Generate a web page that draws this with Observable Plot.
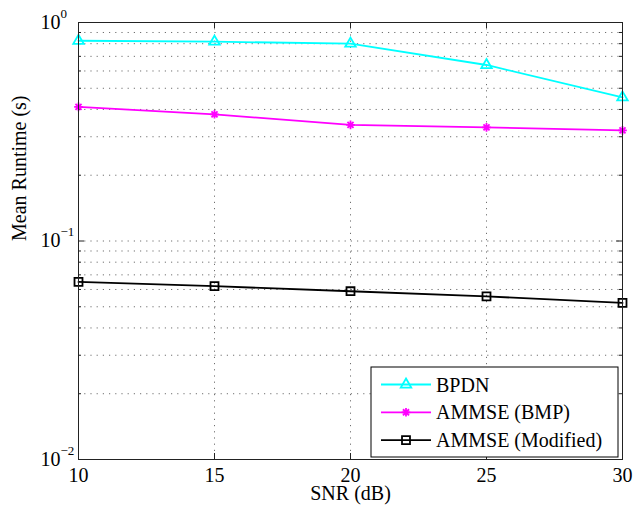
<!DOCTYPE html>
<html>
<head>
<meta charset="utf-8">
<script src="https://cdn.jsdelivr.net/npm/d3@7"></script>
<script src="https://cdn.jsdelivr.net/npm/@observablehq/plot@0.6"></script>
<style>
  html, body { margin: 0; padding: 0; background: #fff; }
  #chart { width: 635px; height: 510px; }
</style>
</head>
<body>
<div id="chart"></div>
<script>
// ---- data ----
const snr = [10, 15, 20, 25, 30];
const bpdn = [0.825, 0.817, 0.80, 0.639, 0.454];
const ammseBmp = [0.411, 0.38, 0.34, 0.331, 0.321];
const ammseModified = [0.065, 0.0621, 0.0589, 0.0558, 0.0521];
const seriesNames = ["BPDN", "AMMSE (BMP)", "AMMSE (Modified)"];
const seriesColors = ["#00ffff", "#ff00ff", "#000000"];
const xTicks = [10, 15, 20, 25, 30];
const yTicks = [0.01, 0.1, 1];
const yMinor = [0.02, 0.03, 0.04, 0.05, 0.06, 0.07, 0.08, 0.09,
                0.2, 0.3, 0.4, 0.5, 0.6, 0.7, 0.8, 0.9];
const xLabel = "SNR (dB)";
const yLabel = "Mean Runtime (s)";

const seriesValues = [bpdn, ammseBmp, ammseModified];
const rows = seriesNames.flatMap((name, i) =>
  snr.map((x, j) => ({series: name, snr: x, value: seriesValues[i][j]})));

const FONT = "Liberation Serif";

// 8-spoke asterisk like MATLAB '*'
const asterisk8 = {
  draw(context, size) {
    const r = Math.sqrt(size / Math.PI);
    const d = r * Math.SQRT1_2;
    context.moveTo(-r, 0); context.lineTo(r, 0);
    context.moveTo(0, -r); context.lineTo(0, r);
    context.moveTo(-d, -d); context.lineTo(d, d);
    context.moveTo(-d, d); context.lineTo(d, -d);
  }
};
const symbols = [d3.symbolTriangle, asterisk8, d3.symbolSquare];
const symbolR = [3.9, 4.3, 4.5];

const W = 635, H = 510;
const mL = 78, mR = 13, mT = 22, mB = 51;
const innerW = W - mL - mR, innerH = H - mT - mB;

const gridStyle = {stroke: "#707070", strokeDasharray: "1.2,5", strokeWidth: 1};
const tickStyle = {stroke: "#222", strokeWidth: 1};
const LW = 1.8;

const plot = Plot.plot({
  width: W, height: H,
  marginLeft: mL, marginRight: mR, marginTop: mT, marginBottom: mB,
  style: {fontFamily: FONT, fontSize: "20px", background: "#fff", overflow: "visible"},
  x: {domain: [10, 30]},
  y: {type: "log", domain: [0.01, 1]},
  color: {domain: seriesNames, range: seriesColors},
  marks: [
    // dotted grid
    Plot.ruleY(yMinor.concat([0.1]), gridStyle),
    Plot.ruleX(xTicks.slice(1, -1), gridStyle),
    // inward ticks
    Plot.ruleX(xTicks, {...tickStyle, insetTop: innerH - 6}),
    Plot.ruleX(xTicks, {...tickStyle, insetBottom: innerH - 6}),
    Plot.ruleY(yTicks, {...tickStyle, insetRight: innerW - 6}),
    Plot.ruleY(yTicks, {...tickStyle, insetLeft: innerW - 6}),
    Plot.ruleY(yMinor, {...tickStyle, insetRight: innerW - 3}),
    Plot.ruleY(yMinor, {...tickStyle, insetLeft: innerW - 3}),
    // series
    Plot.line(rows, {x: "snr", y: "value", z: "series", stroke: "series", strokeWidth: LW}),
    ...seriesNames.map((name, i) =>
      Plot.dot(rows.filter(d => d.series === name), {
        x: "snr", y: "value", symbol: symbols[i], r: symbolR[i],
        stroke: seriesColors[i], fill: "none", strokeWidth: LW
      })),
    Plot.frame({stroke: "#222", strokeWidth: 1}),
    Plot.axisX({ticks: xTicks, tickSize: 0, tickPadding: 8, tickFormat: d => String(d),
                label: null, fontSize: 20}),
    Plot.axisY({ticks: yTicks, tickSize: 0, tickPadding: 9,
                tickFormat: d => "10^" + Math.round(Math.log10(d)), label: null, fontSize: 20}),
    Plot.text([xLabel], {frameAnchor: "bottom", dy: 40.5, fontSize: 20, text: d => d}),
    Plot.text([yLabel], {frameAnchor: "left", dx: -59, rotate: -90, fontSize: 20, text: d => d})
  ]
});

document.getElementById("chart").appendChild(plot);

const svg = d3.select(plot);

// superscripts on y tick labels; the "10" parts are aligned like MATLAB
svg.selectAll('g[aria-label="y-axis tick label"] text').each(function() {
  const t = d3.select(this);
  const s = t.text();
  const m = s.match(/^10\^(-?\d+)$/);
  if (!m) return;
  const e = m[1].replace("-", "\u2212");
  t.text("10");
  t.attr("text-anchor", "start").attr("dx", -29);
  t.append("tspan").attr("dy", "-11").attr("font-size", 13).text(e);
});

// legend (inside SVG)
const lg = svg.append("g").attr("class", "legend").attr("text-anchor", "start");
const lx = 371, ly = 367, lw = 247, lh = 90;
lg.append("rect").attr("x", lx).attr("y", ly).attr("width", lw).attr("height", lh)
  .attr("fill", "#fff").attr("stroke", "#000").attr("stroke-width", 1);
seriesNames.forEach((name, i) => {
  const y = ly + 17.5 + i * 27.8;
  lg.append("line").attr("x1", lx + 10).attr("x2", lx + 60).attr("y1", y).attr("y2", y)
    .attr("stroke", seriesColors[i]).attr("stroke-width", LW);
  lg.append("path")
    .attr("d", d3.symbol(symbols[i], symbolR[i] * symbolR[i] * Math.PI)())
    .attr("transform", `translate(${lx + 35},${y})`)
    .attr("fill", "none").attr("stroke", seriesColors[i]).attr("stroke-width", LW);
  lg.append("text").attr("x", lx + 65).attr("y", y).attr("dy", "0.35em")
    .attr("text-anchor", "start").attr("font-size", 20).attr("fill", "#000").text(name);
});

// serif font on every text element
svg.selectAll("text").attr("font-family", FONT).style("font-family", FONT);
</script>
</body>
</html>
